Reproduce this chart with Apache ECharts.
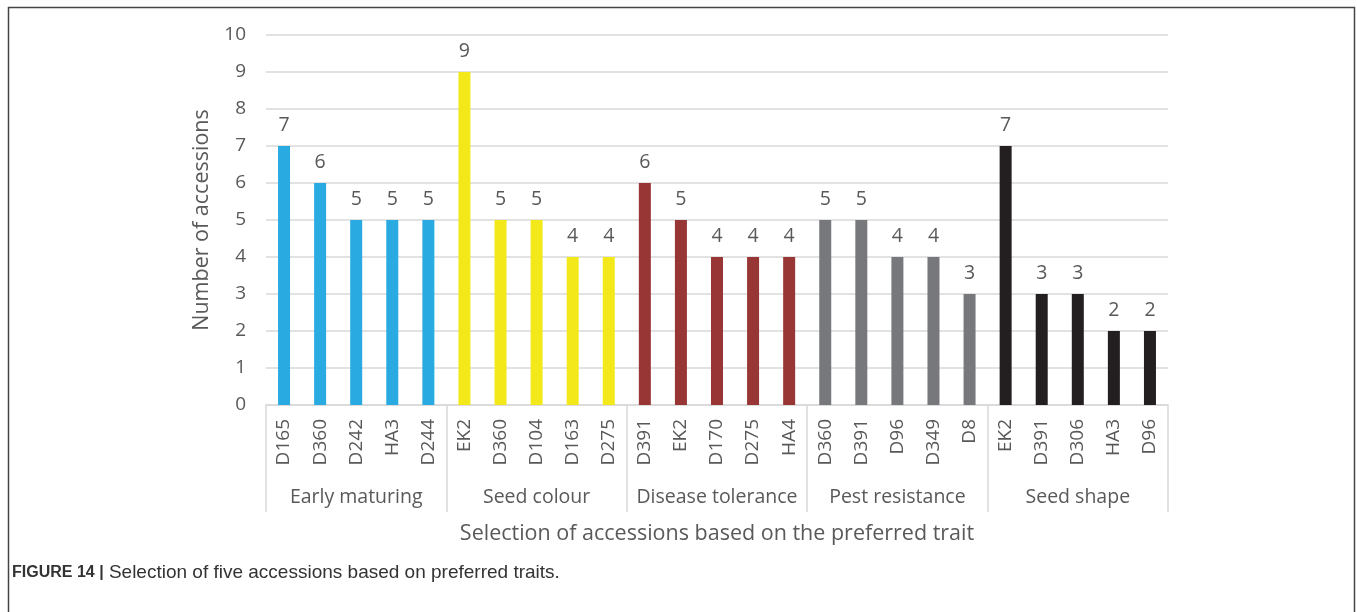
<!DOCTYPE html>
<html>
<head>
<meta charset="utf-8">
<script src="https://cdn.jsdelivr.net/npm/echarts@6/dist/echarts.min.js"></script>
<style>
  html, body { margin: 0; padding: 0; background: #fff; }
  #chart { width: 1357px; height: 612px; }
</style>
</head>
<body>
<div id="chart"></div>
<script>
// accessions picked per trait (5 per trait)
const accessions = [
  'D165', 'D360', 'D242', 'HA3', 'D244',
  'EK2', 'D360', 'D104', 'D163', 'D275',
  'D391', 'EK2', 'D170', 'D275', 'HA4',
  'D360', 'D391', 'D96', 'D349', 'D8',
  'EK2', 'D391', 'D306', 'HA3', 'D96'
];
const counts = [
  7, 6, 5, 5, 5,
  9, 5, 5, 4, 4,
  6, 5, 4, 4, 4,
  5, 5, 4, 4, 3,
  7, 3, 3, 2, 2
];
const traits = ['Early maturing', 'Seed colour', 'Disease tolerance', 'Pest resistance', 'Seed shape'];
const traitColors = ['#29abe2', '#f2e81a', '#983535', '#77787b', '#231f20'];
const yTicks = [0, 10, 1]; // min, max, step

const font = '"Open Sans", "Liberation Sans", sans-serif';
const capFont = '"Liberation Sans Narrow", "Liberation Sans", sans-serif';
const textColor = '#595959';

const myChart = echarts.init(document.getElementById('chart'));
myChart.setOption({
  backgroundColor: '#fff',
  animation: false,
  title: {
    text: '{b|FIGURE 14 |} Selection of five accessions based on preferred traits.',
    left: 7,
    top: 558,
    textStyle: {
      fontFamily: capFont,
      fontSize: 19,
      fontWeight: 'normal',
      color: '#333',
      letterSpacing: 0.15,
      rich: {
        b: { fontFamily: capFont, fontSize: 16, fontWeight: 'bold', color: '#333' },
      },
    },
  },
  graphic: [{
    type: 'polyline',
    shape: { points: [[8.5, 612], [8.5, 7.5], [1354.5, 7.5], [1354.5, 612]] },
    style: { stroke: '#444', lineWidth: 1.5, fill: null },
  }],
  grid: {
    left: 266,
    right: 189,
    top: 35,
    bottom: 207,
  },
  xAxis: [{
    type: 'category',
    data: accessions,
    axisLine: { show: true, lineStyle: { color: '#d9d9d9', width: 1.5 } },
    axisTick: { show: false },
    axisLabel: {
      rotate: 90,
      margin: 14,
      interval: 0,
      fontFamily: font,
      fontSize: 19,
      color: textColor,
    },
  }, {
    type: 'category',
    position: 'bottom',
    data: traits,
    axisLine: { show: false },
    axisTick: { show: true, length: 107, lineStyle: { color: '#d9d9d9', width: 1.5 } },
    axisLabel: {
      margin: 82,
      interval: 0,
      fontFamily: font,
      fontSize: 19.5,
      color: textColor,
    },
    name: 'Selection of accessions based on the preferred trait',
    nameLocation: 'middle',
    nameGap: 118,
    nameTextStyle: { fontFamily: font, fontSize: 21.5, color: textColor },
  }],
  yAxis: {
    type: 'value',
    min: yTicks[0],
    max: yTicks[1],
    interval: yTicks[2],
    axisLine: { show: false },
    axisTick: { show: false },
    splitLine: { lineStyle: { color: '#d9d9d9', width: 1.5 } },
    axisLabel: { margin: 20, fontFamily: font, fontSize: 19, color: textColor },
    name: 'Number of accessions',
    nameLocation: 'middle',
    nameGap: 52,
    nameTextStyle: { fontFamily: font, fontSize: 21.5, color: textColor },
  },
  series: [{
    type: 'bar',
    xAxisIndex: 0,
    barWidth: 12,
    data: counts.map((v, i) => ({
      value: v,
      itemStyle: { color: traitColors[Math.floor(i / 5)] },
    })),
    label: {
      show: true,
      position: 'top',
      distance: 11,
      fontFamily: font,
      fontSize: 19.5,
      color: textColor,
    },
  }],
});
</script>
</body>
</html>
